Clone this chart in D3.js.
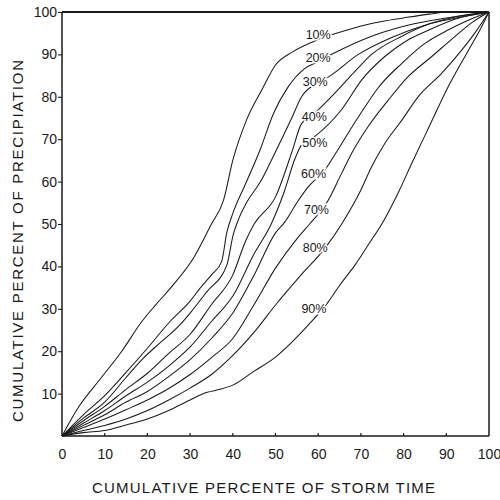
<!DOCTYPE html>
<html>
<head>
<meta charset="utf-8">
<script src="https://cdn.jsdelivr.net/npm/d3@7"></script>
<style>
  html, body { margin: 0; padding: 0; background: #fff; }
  svg { display: block; }
</style>
</head>
<body>
<svg id="chart" width="500" height="500"></svg>
<script>
// ---------- data ----------
const xTicks = [0, 10, 20, 30, 40, 50, 60, 70, 80, 90, 100];
const yTicks = [10, 20, 30, 40, 50, 60, 70, 80, 90, 100];
const seriesNames = ["10%", "20%", "30%", "40%", "50%", "60%", "70%", "80%", "90%"];

// each curve: [cumulative % of storm time, cumulative % of precipitation]
const c10 = [[0,0],[4,7],[9,13.5],[14,20],[18.7,27],[22,31],[26,35.6],[30.8,42],[35,50],[37.8,55.5],[40,65],[43.2,74.5],[47,82],[50,87.5],[54,90.6],[60,93.5],[66,95.5],[73,97.4],[80,98.6],[86,99.5],[91,100],[100,100]];
const c20 = [[0,0],[5,5],[10,9.5],[15,15],[20,20.7],[25.3,27],[30,31.8],[32.3,34.8],[35,38],[37.4,41.2],[38.6,48],[40,52.5],[43,59.5],[46.4,67.5],[49.5,76],[53,82.4],[56.9,86.7],[60,88.3],[63.5,90.2],[73.3,94.6],[81,96.9],[90,98.6],[100,100]];
const c30 = [[0,0],[5,4.2],[10,8],[15,13.8],[19,18.3],[23,22],[27.6,26.2],[30,29],[33.9,34],[38.6,40.3],[40.1,47.5],[41.5,51.5],[43.2,55],[46.5,60],[49.5,66],[53.8,75],[56.1,80],[59.3,83],[62.4,84.7],[69.4,90],[77.2,94],[85,96.9],[92,98.5],[100,100]];
const c40 = [[0,0],[5,3.6],[10,7],[15,11],[20,14.8],[25,19.5],[30,24],[35,31],[40,38],[43,46],[45,50],[50,56.4],[54,67.5],[56,73.5],[59,76],[64,81],[68.6,86],[72.5,90],[79.6,94.3],[85,96.8],[92,98.8],[100,100]];
const c50 = [[0,0],[5,3],[10,6],[15,9.5],[20,12.7],[25,16.5],[30,21],[35,27],[40,33],[45,43],[49,50],[52,57.5],[54.6,65.5],[56,68.5],[59,70.5],[65.5,77],[70.2,84],[75.6,89.5],[81,93.4],[86,95.8],[92,98.3],[100,100]];
const c60 = [[0,0],[5,2.5],[10,5],[15,8],[20,10.5],[25,14],[30,18],[35,23],[40,29],[45,38],[50,47.9],[52.2,50.5],[55,55],[57.7,58.8],[61.6,62.8],[64,66.5],[67,71.4],[71,77.7],[74.1,82.2],[79.6,87.9],[85,92.6],[90.5,95.8],[95,98],[100,100]];
const c70 = [[0,0],[5,2],[10,4],[15,6.2],[20,8.5],[25,11.2],[30,14.5],[35,18.5],[40,23],[45,31],[50,39.6],[55,46.5],[58,50],[62,55],[65.5,62],[68,67],[71.7,73],[76.4,79.2],[81,84.7],[86.6,89.5],[92,94.2],[96,97.5],[100,100]];
const c80 = [[0,0],[5,1.3],[10,2.5],[15,4],[20,6],[25,8.5],[30,11.3],[35,14.5],[40,19],[45,24.5],[50,30.9],[56,38],[61.6,44.3],[65.5,50],[70,58],[72.5,63.5],[75.6,69],[79.6,74.5],[83.4,80],[88.9,85.5],[93.6,91],[97,95.5],[100,100]];
const c90 = [[0,0],[5,0.8],[10,1.3],[15,2.6],[20,4],[25,6],[30,8.5],[34,10.3],[37,11],[40,12],[45,15.3],[50,18.6],[55,23.3],[57.7,26.2],[62.4,31.7],[65,35.5],[68.6,40.3],[72,45.5],[74.9,50],[78.8,57.5],[82,64.5],[86,73],[90.5,82.5],[95.2,91],[98,96],[100,100]];
const curves = [c10, c20, c30, c40, c50, c60, c70, c80, c90];

// curve label anchor positions (data units)
const labelT = [60.0, 60.0, 59.3, 59.1, 59.2, 58.9, 59.6, 59.3, 59.0];
const labelP = [94.6, 89.1, 83.6, 75.3, 69.0, 61.9, 53.3, 44.3, 30.0];

const xTitle = "CUMULATIVE PERCENTE OF STORM TIME";
const yTitle = "CUMULATIVE PERCENT OF PRECIPIATION";

// ---------- drawing ----------
const svg = d3.select("#chart");
const x = d3.scaleLinear().domain([0, 100]).range([62, 489]);
const y = d3.scaleLinear().domain([0, 100]).range([436, 12]);
const ink = "#1a1a1a";
const font = "'Liberation Sans', Arial, sans-serif";

const line = d3.line()
  .x(d => x(d[0]))
  .y(d => y(d[1]))
  .curve(d3.curveMonotoneX);

// curves
svg.append("g")
  .selectAll("path")
  .data(curves)
  .join("path")
  .attr("d", line)
  .attr("fill", "none")
  .attr("stroke", ink)
  .attr("stroke-width", 1.05)
  .attr("stroke-linejoin", "round");

// frame
const frame = svg.append("g").attr("stroke", ink).attr("fill", "none");
frame.append("line").attr("x1", x(0)).attr("x2", x(100)).attr("y1", y(100)).attr("y2", y(100)).attr("stroke-width", 2);
frame.append("line").attr("x1", x(0)).attr("x2", x(100)).attr("y1", y(0)).attr("y2", y(0)).attr("stroke-width", 1.5);
frame.append("line").attr("x1", x(0)).attr("x2", x(0)).attr("y1", y(0)).attr("y2", y(100)).attr("stroke-width", 1.5);
frame.append("line").attr("x1", x(100)).attr("x2", x(100)).attr("y1", y(0)).attr("y2", y(100)).attr("stroke-width", 1.5);

// x axis (ticks inward, labels below)
const xAxis = d3.axisBottom(x).tickValues(xTicks).tickSize(0).tickPadding(13).tickFormat(d3.format("d"));
const gx = svg.append("g").attr("transform", `translate(0,${y(0)})`).call(xAxis);
gx.select(".domain").remove();
gx.selectAll("text").attr("font-family", font).attr("font-size", 14).attr("fill", ink);
svg.append("g").selectAll("line").data(xTicks.slice(1, -1)).join("line")
  .attr("x1", d => x(d)).attr("x2", d => x(d))
  .attr("y1", y(0)).attr("y2", y(0) - 3)
  .attr("stroke", ink).attr("stroke-width", 1.2);

// y axis (short outward ticks)
const yAxis = d3.axisLeft(y).tickValues(yTicks).tickSize(4).tickPadding(1).tickFormat(d3.format("d"));
const gy = svg.append("g").attr("transform", `translate(${x(0)},0)`).call(yAxis);
gy.select(".domain").remove();
gy.selectAll("line").attr("stroke", ink).attr("stroke-width", 1.1);
gy.selectAll("text").attr("font-family", font).attr("font-size", 14).attr("fill", ink);

// curve labels
svg.append("g")
  .selectAll("text")
  .data(seriesNames)
  .join("text")
  .attr("x", (d, i) => x(labelT[i]))
  .attr("y", (d, i) => y(labelP[i]))
  .attr("text-anchor", "middle")
  .attr("dominant-baseline", "central")
  .attr("font-family", font)
  .attr("font-size", 12.5)
  .attr("fill", ink)
  .attr("stroke", "#fff")
  .attr("stroke-width", 3)
  .attr("paint-order", "stroke")
  .text(d => d);

// titles
svg.append("text")
  .attr("x", 263.5).attr("y", 493)
  .attr("text-anchor", "middle")
  .attr("font-family", font).attr("font-size", 15).attr("fill", ink)
  .attr("textLength", 343).attr("lengthAdjust", "spacing")
  .text(xTitle);

svg.append("text")
  .attr("transform", "translate(23,241) rotate(-90)")
  .attr("text-anchor", "middle")
  .attr("font-family", font).attr("font-size", 15).attr("fill", ink)
  .attr("textLength", 362).attr("lengthAdjust", "spacing")
  .text(yTitle);
</script>
</body>
</html>
